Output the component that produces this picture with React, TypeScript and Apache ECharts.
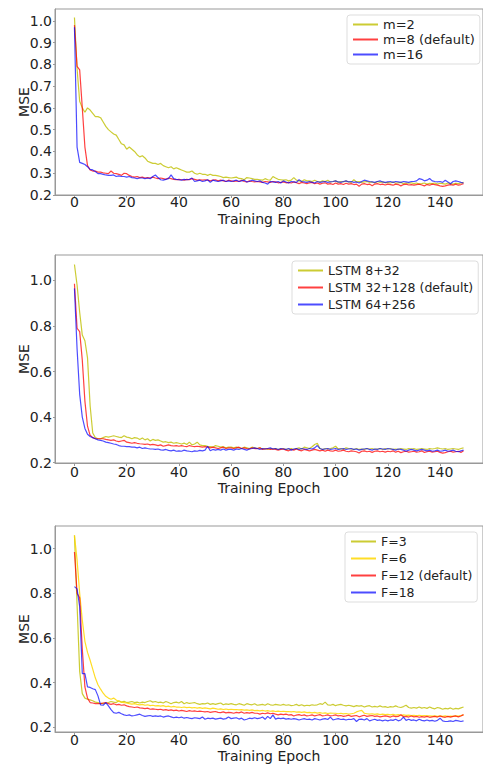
import React, { useEffect, useRef } from "react";
import * as echarts from "echarts";

const epochs: number[] = Array.from({ length: 150 }, (_, i) => i);
const xTicks = [0, 20, 40, 60, 80, 100, 120, 140];
const yTicks1 = [0.2, 0.3, 0.4, 0.5, 0.6, 0.7, 0.8, 0.9, 1.0];
const yTicks23 = [0.2, 0.4, 0.6, 0.8, 1.0];

const names1 = ["m=2", "m=8 (default)", "m=16"];
const names2 = ["LSTM 8+32", "LSTM 32+128 (default)", "LSTM 64+256"];
const names3 = ["F=3", "F=6", "F=12 (default)", "F=18"];

// Panel 1
const m2 = [
  1.015, 0.78, 0.63, 0.6, 0.58, 0.6, 0.59, 0.575, 0.56, 0.56,
  0.555, 0.535, 0.515, 0.5, 0.49, 0.48, 0.475, 0.455, 0.435, 0.43,
  0.41, 0.42, 0.41, 0.4, 0.385, 0.375, 0.38, 0.37, 0.355, 0.35,
  0.345, 0.345, 0.34, 0.345, 0.335, 0.33, 0.325, 0.33, 0.32, 0.325,
  0.32, 0.315, 0.31, 0.305, 0.305, 0.31, 0.3, 0.295, 0.3, 0.295,
  0.295, 0.29, 0.295, 0.29, 0.29, 0.288, 0.285, 0.28, 0.282, 0.28,
  0.278, 0.28, 0.282, 0.276, 0.275, 0.27, 0.28, 0.278, 0.275, 0.272,
  0.272, 0.27, 0.268, 0.275, 0.27, 0.268, 0.285, 0.278, 0.272, 0.27,
  0.268, 0.27, 0.265, 0.268, 0.28, 0.268, 0.265, 0.262, 0.27, 0.265,
  0.265, 0.262, 0.268, 0.262, 0.26, 0.265, 0.262, 0.268, 0.26, 0.262,
  0.265, 0.258, 0.262, 0.26, 0.265, 0.26, 0.258, 0.27, 0.26, 0.262,
  0.258, 0.26, 0.262, 0.258, 0.26, 0.255, 0.262, 0.258, 0.26, 0.256,
  0.258, 0.255, 0.26, 0.254, 0.256, 0.258, 0.252, 0.255, 0.254, 0.256,
  0.252, 0.255, 0.25, 0.252, 0.255, 0.25, 0.254, 0.252, 0.255, 0.25,
  0.254, 0.252, 0.25, 0.255, 0.252, 0.25, 0.254, 0.252, 0.255, 0.258,
];
const m8 = [
  0.98, 0.79, 0.775, 0.6, 0.42, 0.335, 0.315, 0.31, 0.31, 0.305,
  0.305, 0.302, 0.3, 0.298, 0.31, 0.3, 0.298, 0.295, 0.29, 0.3,
  0.298, 0.29, 0.285, 0.282, 0.285, 0.28, 0.282, 0.278, 0.28, 0.278,
  0.282, 0.278, 0.275, 0.278, 0.275, 0.272, 0.278, 0.275, 0.272, 0.27,
  0.272, 0.27, 0.268, 0.272, 0.27, 0.275, 0.272, 0.268, 0.27, 0.268,
  0.27, 0.268, 0.265, 0.268, 0.27, 0.265, 0.268, 0.265, 0.262, 0.268,
  0.265, 0.262, 0.265, 0.262, 0.268, 0.262, 0.26, 0.265, 0.262, 0.26,
  0.262, 0.26, 0.258, 0.262, 0.26, 0.258, 0.262, 0.26, 0.256, 0.258,
  0.26, 0.256, 0.258, 0.255, 0.26, 0.256, 0.252, 0.258, 0.255, 0.252,
  0.256, 0.258, 0.252, 0.255, 0.25, 0.254, 0.256, 0.25, 0.252, 0.248,
  0.255, 0.25, 0.252, 0.248, 0.254, 0.25, 0.252, 0.248, 0.25, 0.24,
  0.25, 0.252, 0.248, 0.25, 0.242, 0.25, 0.252, 0.248, 0.25, 0.246,
  0.25, 0.248, 0.245, 0.25, 0.248, 0.242, 0.248, 0.25, 0.246, 0.248,
  0.245, 0.248, 0.25, 0.246, 0.242, 0.248, 0.245, 0.25, 0.248, 0.245,
  0.242, 0.24, 0.242, 0.245, 0.248, 0.245, 0.25, 0.245, 0.248, 0.252,
];
const m16 = [
  0.97, 0.42, 0.35, 0.345, 0.34, 0.33, 0.318, 0.315, 0.308, 0.298,
  0.298, 0.295, 0.292, 0.29, 0.29, 0.292, 0.285, 0.288, 0.285, 0.285,
  0.282, 0.285, 0.28, 0.278, 0.275, 0.278, 0.278, 0.275, 0.278, 0.275,
  0.285, 0.292, 0.28, 0.27, 0.268, 0.272, 0.275, 0.292, 0.275, 0.272,
  0.27, 0.268, 0.272, 0.27, 0.272, 0.278, 0.262, 0.265, 0.268, 0.262,
  0.265, 0.27, 0.258, 0.268, 0.265, 0.262, 0.265, 0.268, 0.262, 0.265,
  0.262, 0.265, 0.268, 0.262, 0.265, 0.268, 0.26, 0.262, 0.268, 0.265,
  0.262, 0.265, 0.258, 0.255, 0.25, 0.262, 0.26, 0.258, 0.262, 0.255,
  0.265, 0.26, 0.255, 0.262, 0.26, 0.258, 0.27, 0.262, 0.26, 0.258,
  0.262, 0.258, 0.255, 0.262, 0.258, 0.26, 0.262, 0.258, 0.26, 0.262,
  0.265, 0.26, 0.258, 0.262, 0.265, 0.26, 0.262, 0.258, 0.26, 0.255,
  0.262, 0.268, 0.265, 0.262, 0.26, 0.258, 0.262, 0.265, 0.26, 0.258,
  0.26, 0.262, 0.258, 0.262, 0.26, 0.258, 0.262, 0.26, 0.258, 0.262,
  0.262, 0.265, 0.275, 0.272, 0.265, 0.268, 0.276, 0.265, 0.262, 0.26,
  0.262, 0.258, 0.268, 0.26, 0.252, 0.262, 0.265, 0.262, 0.258, 0.255,
];

// Panel 2
const lstm8 = [
  1.07, 0.98, 0.86, 0.76, 0.735, 0.66, 0.45, 0.33, 0.31, 0.305,
  0.305, 0.31, 0.315, 0.312, 0.315, 0.318, 0.315, 0.312, 0.31, 0.318,
  0.312, 0.31, 0.305, 0.31, 0.308, 0.302, 0.308, 0.3, 0.305, 0.295,
  0.302, 0.298, 0.3, 0.295, 0.29, 0.292, 0.288, 0.29, 0.285, 0.288,
  0.285, 0.282, 0.286, 0.28, 0.29, 0.278, 0.282, 0.29, 0.278, 0.275,
  0.275, 0.272, 0.27, 0.268, 0.275, 0.272, 0.268, 0.27, 0.265, 0.268,
  0.268, 0.265, 0.268, 0.265, 0.262, 0.268, 0.265, 0.262, 0.268, 0.265,
  0.262, 0.265, 0.26, 0.262, 0.258, 0.262, 0.26, 0.262, 0.258, 0.26,
  0.262, 0.258, 0.26, 0.262, 0.258, 0.262, 0.265, 0.26, 0.268, 0.265,
  0.262, 0.27, 0.28, 0.285, 0.262, 0.258, 0.262, 0.26, 0.262, 0.265,
  0.272, 0.26, 0.262, 0.258, 0.265, 0.262, 0.26, 0.258, 0.262, 0.258,
  0.26, 0.258, 0.262, 0.26, 0.262, 0.258, 0.26, 0.262, 0.258, 0.262,
  0.26, 0.262, 0.258, 0.26, 0.258, 0.262, 0.26, 0.258, 0.262, 0.26,
  0.262, 0.258, 0.26, 0.262, 0.26, 0.258, 0.262, 0.26, 0.262, 0.265,
  0.262, 0.26, 0.262, 0.258, 0.26, 0.262, 0.26, 0.258, 0.262, 0.265,
];
const lstm32 = [
  0.985, 0.79, 0.775, 0.65, 0.47, 0.36, 0.32, 0.31, 0.305, 0.305,
  0.305, 0.305, 0.302, 0.3, 0.298, 0.3, 0.295, 0.292, 0.295, 0.298,
  0.29, 0.288, 0.285, 0.288, 0.285, 0.283, 0.282, 0.28, 0.282, 0.278,
  0.28, 0.278, 0.275, 0.278, 0.272, 0.275, 0.278, 0.275, 0.273, 0.275,
  0.272, 0.275, 0.272, 0.27, 0.275, 0.272, 0.27, 0.272, 0.27, 0.268,
  0.27, 0.268, 0.265, 0.268, 0.265, 0.262, 0.265, 0.268, 0.262, 0.265,
  0.265, 0.262, 0.265, 0.268, 0.262, 0.265, 0.262, 0.26, 0.265, 0.262,
  0.262, 0.265, 0.258, 0.26, 0.262, 0.258, 0.26, 0.258, 0.255, 0.258,
  0.26, 0.255, 0.252, 0.258, 0.255, 0.26, 0.255, 0.252, 0.258, 0.255,
  0.252, 0.255, 0.258, 0.255, 0.252, 0.255, 0.25, 0.255, 0.252, 0.25,
  0.255, 0.25, 0.252, 0.255, 0.25, 0.248, 0.252, 0.25, 0.248, 0.242,
  0.25, 0.252, 0.248, 0.25, 0.245, 0.25, 0.252, 0.248, 0.25, 0.246,
  0.25, 0.248, 0.252, 0.246, 0.25, 0.244, 0.248, 0.25, 0.246, 0.248,
  0.25, 0.246, 0.248, 0.252, 0.245, 0.248, 0.25, 0.246, 0.248, 0.25,
  0.245, 0.242, 0.244, 0.248, 0.25, 0.246, 0.248, 0.25, 0.245, 0.252,
];
const lstm64 = [
  0.965, 0.7, 0.5, 0.4, 0.35, 0.325, 0.315, 0.31, 0.305, 0.3,
  0.298, 0.295, 0.29, 0.288, 0.285, 0.282, 0.28, 0.275, 0.272, 0.272,
  0.27, 0.27, 0.268, 0.268, 0.265, 0.268, 0.262, 0.265, 0.262, 0.26,
  0.26, 0.258, 0.26, 0.256, 0.255, 0.258, 0.254, 0.252, 0.255, 0.25,
  0.252, 0.25, 0.255, 0.252, 0.25, 0.248, 0.252, 0.25, 0.254, 0.252,
  0.255, 0.272, 0.252, 0.258, 0.255, 0.258, 0.255, 0.26, 0.255, 0.258,
  0.258, 0.255, 0.26, 0.258, 0.262, 0.258, 0.255, 0.26, 0.262, 0.265,
  0.262, 0.258, 0.262, 0.26, 0.262, 0.265, 0.26, 0.262, 0.258, 0.262,
  0.26, 0.258, 0.262, 0.255, 0.26, 0.262, 0.258, 0.262, 0.26, 0.258,
  0.262, 0.26, 0.265, 0.275, 0.262, 0.258, 0.26, 0.262, 0.258, 0.26,
  0.262, 0.258, 0.26, 0.262, 0.258, 0.26, 0.262, 0.258, 0.26, 0.255,
  0.258, 0.26, 0.262, 0.258, 0.255, 0.26, 0.258, 0.262, 0.26, 0.258,
  0.262, 0.26, 0.258, 0.255, 0.26, 0.258, 0.255, 0.25, 0.255, 0.258,
  0.255, 0.252, 0.255, 0.258, 0.255, 0.252, 0.255, 0.25, 0.252, 0.255,
  0.25, 0.252, 0.255, 0.25, 0.252, 0.255, 0.25, 0.248, 0.252, 0.255,
];

// Panel 3
const f3 = [
  1.06, 0.75, 0.45, 0.35, 0.33, 0.325, 0.322, 0.318, 0.312, 0.31,
  0.306, 0.305, 0.308, 0.31, 0.315, 0.312, 0.31, 0.318, 0.312, 0.316,
  0.31, 0.312, 0.315, 0.31, 0.312, 0.308, 0.312, 0.31, 0.315, 0.318,
  0.312, 0.315, 0.31, 0.312, 0.308, 0.315, 0.31, 0.305, 0.31, 0.312,
  0.308, 0.315, 0.305, 0.31, 0.306, 0.308, 0.31, 0.305, 0.302, 0.305,
  0.304, 0.308, 0.302, 0.305, 0.302, 0.305, 0.308, 0.3, 0.304, 0.302,
  0.305, 0.302, 0.3, 0.305, 0.302, 0.298, 0.305, 0.302, 0.3, 0.305,
  0.298, 0.3, 0.302, 0.298, 0.305, 0.3, 0.298, 0.302, 0.3, 0.298,
  0.302, 0.298, 0.3, 0.296, 0.298, 0.302, 0.296, 0.3, 0.295, 0.298,
  0.296, 0.3, 0.298, 0.3, 0.305, 0.302, 0.312, 0.3, 0.298, 0.302,
  0.296, 0.3, 0.302, 0.298, 0.295, 0.298, 0.295, 0.292, 0.296, 0.294,
  0.296, 0.29, 0.294, 0.296, 0.29, 0.293, 0.29, 0.295, 0.29, 0.292,
  0.288, 0.292, 0.29, 0.295, 0.29, 0.288, 0.292, 0.298, 0.288, 0.285,
  0.288, 0.285, 0.29, 0.285, 0.288, 0.284, 0.29, 0.285, 0.282, 0.288,
  0.285, 0.28, 0.284, 0.282, 0.286, 0.28, 0.284, 0.282, 0.286, 0.29,
];
const f6 = [
  1.06, 0.95, 0.8, 0.68, 0.585, 0.535, 0.5, 0.46, 0.42, 0.39,
  0.37, 0.352, 0.338, 0.33, 0.325, 0.33, 0.322, 0.315, 0.312, 0.31,
  0.308, 0.305, 0.303, 0.305, 0.302, 0.3, 0.302, 0.298, 0.3, 0.296,
  0.298, 0.295, 0.296, 0.294, 0.296, 0.292, 0.294, 0.29, 0.293, 0.29,
  0.29, 0.288, 0.29, 0.287, 0.289, 0.286, 0.288, 0.285, 0.287, 0.284,
  0.286, 0.284, 0.282, 0.285, 0.283, 0.28, 0.282, 0.279, 0.281, 0.278,
  0.28, 0.278, 0.279, 0.277, 0.278, 0.276, 0.277, 0.275, 0.277, 0.274,
  0.275, 0.273, 0.275, 0.272, 0.274, 0.271, 0.273, 0.27, 0.272, 0.27,
  0.271, 0.269, 0.27, 0.268, 0.27, 0.267, 0.268, 0.266, 0.268, 0.265,
  0.266, 0.264, 0.266, 0.263, 0.265, 0.262, 0.264, 0.261, 0.263, 0.262,
  0.262, 0.26, 0.262, 0.259, 0.261, 0.258, 0.26, 0.262, 0.268, 0.272,
  0.275, 0.262, 0.26, 0.258, 0.26, 0.257, 0.259, 0.256, 0.258, 0.256,
  0.257, 0.255, 0.257, 0.254, 0.256, 0.253, 0.255, 0.253, 0.254, 0.252,
  0.253, 0.251, 0.253, 0.25, 0.252, 0.25, 0.251, 0.249, 0.25, 0.248,
  0.25, 0.248, 0.25, 0.247, 0.249, 0.248, 0.25, 0.249, 0.252, 0.255,
];
const f12 = [
  0.985, 0.8, 0.78, 0.55, 0.38, 0.33, 0.31, 0.308, 0.305, 0.305,
  0.305, 0.308, 0.31, 0.305, 0.302, 0.305, 0.3, 0.302, 0.298, 0.3,
  0.295, 0.292, 0.29, 0.288, 0.29, 0.286, 0.285, 0.283, 0.285, 0.28,
  0.282, 0.28, 0.278, 0.28, 0.276, 0.278, 0.275, 0.277, 0.274, 0.276,
  0.272, 0.275, 0.273, 0.27, 0.274, 0.271, 0.273, 0.27, 0.272, 0.27,
  0.268, 0.27, 0.266, 0.268, 0.27, 0.266, 0.265, 0.268, 0.264, 0.266,
  0.265, 0.262, 0.266, 0.264, 0.268, 0.262, 0.265, 0.263, 0.266, 0.262,
  0.262, 0.258, 0.262, 0.26, 0.264, 0.26, 0.262, 0.258, 0.255, 0.258,
  0.256, 0.258, 0.254, 0.256, 0.25, 0.254, 0.256, 0.252, 0.255, 0.25,
  0.252, 0.255, 0.25, 0.253, 0.256, 0.25, 0.252, 0.255, 0.25, 0.252,
  0.255, 0.25, 0.252, 0.248, 0.25, 0.253, 0.248, 0.25, 0.252, 0.246,
  0.25, 0.253, 0.248, 0.25, 0.252, 0.248, 0.25, 0.246, 0.248, 0.25,
  0.248, 0.245, 0.25, 0.247, 0.248, 0.255, 0.246, 0.248, 0.245, 0.25,
  0.246, 0.248, 0.244, 0.247, 0.245, 0.248, 0.244, 0.246, 0.248, 0.245,
  0.25, 0.246, 0.244, 0.248, 0.245, 0.248, 0.25, 0.246, 0.25, 0.256,
];
const f18 = [
  0.83, 0.82, 0.74, 0.44, 0.44, 0.38, 0.378, 0.372, 0.368, 0.34,
  0.3, 0.298, 0.31, 0.295, 0.278, 0.265, 0.262, 0.266, 0.26, 0.255,
  0.252, 0.255, 0.25, 0.252, 0.255, 0.258, 0.252, 0.248, 0.25, 0.252,
  0.248, 0.25, 0.248, 0.25, 0.245, 0.248, 0.25, 0.246, 0.242, 0.245,
  0.242, 0.245, 0.24, 0.243, 0.24, 0.238, 0.242, 0.24, 0.238, 0.245,
  0.235, 0.24, 0.238, 0.24, 0.236, 0.238, 0.24, 0.236, 0.238, 0.245,
  0.238, 0.24, 0.242, 0.236, 0.24, 0.232, 0.235, 0.24, 0.238, 0.242,
  0.238, 0.24, 0.245, 0.235, 0.248, 0.238, 0.255, 0.236, 0.24, 0.238,
  0.24, 0.236, 0.238, 0.235, 0.238, 0.236, 0.232, 0.235, 0.238, 0.234,
  0.236, 0.232, 0.238, 0.235, 0.232, 0.236, 0.238, 0.234, 0.245, 0.232,
  0.235, 0.238, 0.234, 0.236, 0.232, 0.235, 0.234, 0.238, 0.225, 0.235,
  0.236, 0.232, 0.238, 0.228, 0.232, 0.235, 0.23, 0.232, 0.228, 0.232,
  0.228, 0.232, 0.23, 0.235, 0.228, 0.232, 0.245, 0.23, 0.235, 0.23,
  0.232, 0.228, 0.235, 0.23, 0.228, 0.232, 0.228, 0.23, 0.226, 0.23,
  0.24, 0.228, 0.225, 0.226, 0.228, 0.225, 0.23, 0.228, 0.225, 0.228,
];

const YEL = "rgba(191,191,0,0.8)";
const RED = "rgba(255,0,0,0.75)";
const BLU = "rgba(0,0,255,0.7)";
const GLD = "rgba(255,215,0,0.85)";

const FONT = "DejaVu Sans";
const SPINE = "#999";

export default function App() {
  const ref = useRef<HTMLDivElement>(null);
  useEffect(() => {
    document.body.style.margin = "0";
    if (!ref.current) return;
    const chart = echarts.init(ref.current, undefined, { renderer: "svg" });

    const panels = [
      { top: 9, height: 186, min: 0.2, max: 1.054, ticks: yTicks1, labelMargin: 0, nameGap: 17 },
      { top: 255, height: 208, min: 0.1985, max: 1.1115, ticks: yTicks23, labelMargin: 2, nameGap: 18 },
      { top: 526, height: 209, min: 0.178, max: 1.102, ticks: yTicks23, labelMargin: 1, nameGap: 17 },
    ];

    const grid = panels.map((p) => ({
      left: 55,
      top: p.top,
      width: 433,
      height: p.height,
      show: true,
      borderColor: SPINE,
      borderWidth: 1,
      backgroundColor: "transparent",
    }));

    const xAxis = panels.map((p, i) => ({
      type: "value",
      gridIndex: i,
      min: -7.45,
      max: 156.45,
      name: "Training Epoch",
      nameLocation: "middle",
      nameGap: p.nameGap,
      nameMoveOverlap: false,
      nameTextStyle: { fontSize: 14, color: "#222", fontFamily: FONT },
      axisLine: { show: true, onZero: false, lineStyle: { color: SPINE } },
      axisTick: { show: true, length: 3, lineStyle: { color: SPINE }, customValues: xTicks },
      axisLabel: {
        show: true,
        fontSize: 14,
        color: "#222",
        fontFamily: FONT,
        margin: p.labelMargin,
        customValues: xTicks,
        formatter: (v: number) => String(Math.round(v)),
      },
      splitLine: { show: false },
    }));

    const yAxis = panels.map((p, i) => ({
      type: "value",
      gridIndex: i,
      min: p.min,
      max: p.max,
      name: "MSE",
      nameLocation: "middle",
      nameGap: 24,
      nameMoveOverlap: false,
      nameRotate: 90,
      nameTextStyle: { fontSize: 14, color: "#222", fontFamily: FONT },
      axisLine: { show: true, onZero: false, lineStyle: { color: SPINE } },
      axisTick: { show: true, length: 2, lineStyle: { color: SPINE }, customValues: p.ticks },
      axisLabel: {
        show: true,
        fontSize: 14,
        color: "#222",
        fontFamily: FONT,
        margin: 3,
        customValues: p.ticks,
        formatter: (v: number) => v.toFixed(1),
      },
      splitLine: { show: false },
    }));

    const mk = (name: string, vals: number[], color: string, idx: number) => ({
      name,
      type: "line",
      xAxisIndex: idx,
      yAxisIndex: idx,
      data: epochs.map((e, k) => [e, vals[k]]),
      symbol: "none",
      showSymbol: false,
      lineStyle: { width: 1.2, color },
      itemStyle: { color },
      emphasis: { disabled: true },
    });

    const series = [
      mk(names1[0], m2, YEL, 0),
      mk(names1[1], m8, RED, 0),
      mk(names1[2], m16, BLU, 0),
      mk(names2[0], lstm8, YEL, 1),
      mk(names2[1], lstm32, RED, 1),
      mk(names2[2], lstm64, BLU, 1),
      mk(names3[0], f3, YEL, 2),
      mk(names3[1], f6, GLD, 2),
      mk(names3[2], f12, RED, 2),
      mk(names3[3], f18, BLU, 2),
    ];

    const legendBase = {
      orient: "vertical",
      itemWidth: 25,
      itemHeight: 14,
      borderColor: "#ddd",
      borderWidth: 1,
      borderRadius: 3,
      backgroundColor: "#fff",
      selectedMode: false,
      itemStyle: { opacity: 0 },
    };

    const legend = [
      {
        ...legendBase,
        data: names1,
        left: 347,
        top: 15,
        padding: [3, 5, 3, 5],
        itemGap: 2,
        textStyle: { fontSize: 13, color: "#222", fontFamily: FONT },
      },
      {
        ...legendBase,
        data: names2,
        left: 292,
        top: 261,
        padding: [3, 5, 3, 5],
        itemGap: 4,
        textStyle: { fontSize: 12.5, color: "#222", fontFamily: FONT },
      },
      {
        ...legendBase,
        data: names3,
        left: 345,
        top: 532,
        padding: [3, 5, 3, 5],
        itemGap: 4,
        textStyle: { fontSize: 12.5, color: "#222", fontFamily: FONT },
      },
    ];

    chart.setOption({
      animation: false,
      backgroundColor: "#fff",
      grid,
      xAxis,
      yAxis,
      legend,
      series,
    } as any);

    return () => chart.dispose();
  }, []);
  return <div ref={ref} style={{ width: 483, height: 764 }} />;
}
